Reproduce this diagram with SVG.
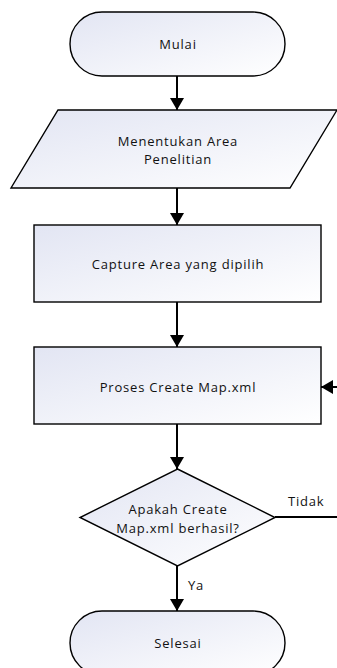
<svg xmlns="http://www.w3.org/2000/svg" width="337" height="668" viewBox="0 0 337 668">
<defs>
<linearGradient id="g" x1="0" y1="0" x2="1" y2="1">
<stop offset="0" stop-color="#e2e5f3"/>
<stop offset="1" stop-color="#ffffff"/>
</linearGradient>
<marker id="ah" markerUnits="userSpaceOnUse" markerWidth="12" markerHeight="14" refX="12" refY="7" orient="auto" viewBox="0 0 12 14">
<path d="M0,0 L12,7 L0,14 z" fill="#000"/>
</marker>
</defs>
<style>
.s{fill:url(#g);stroke:#000;stroke-width:1.4}
.t{font-family:"Open Sans","Noto Sans",sans-serif;font-size:13px;letter-spacing:0.8px;fill:#111;text-anchor:middle}
.l{font-family:"Open Sans","Noto Sans",sans-serif;font-size:13px;letter-spacing:0.8px;fill:#111}
.c{fill:none;stroke:#000;stroke-width:2}
</style>
<g id="connectors">
<line class="c" x1="177" y1="76" x2="177" y2="110" marker-end="url(#ah)"/>
<line class="c" x1="177" y1="188" x2="177" y2="225" marker-end="url(#ah)"/>
<line class="c" x1="177" y1="302" x2="177" y2="347" marker-end="url(#ah)"/>
<line class="c" x1="177" y1="424" x2="177" y2="469" marker-end="url(#ah)"/>
<line class="c" x1="177" y1="566" x2="177" y2="611" marker-end="url(#ah)"/>
<path class="c" d="M275,517 H345 V387 H321" stroke-width="1.4" marker-end="url(#ah)"/>
<text class="l" x="288" y="506">Tidak</text>
<text class="l" x="188" y="590">Ya</text>
</g>
<g id="mulai">
<rect class="s" x="70" y="12" width="215" height="64" rx="32" ry="32"/>
<text class="t" x="178" y="49">Mulai</text>
</g>
<g id="menentukan">
<polygon class="s" points="58,110 337,110 290,188 11,188"/>
<text class="t" x="178" y="146">Menentukan Area</text>
<text class="t" x="178" y="164">Penelitian</text>
</g>
<g id="capture">
<rect class="s" x="34" y="225" width="287" height="77"/>
<text class="t" x="178" y="269">Capture Area yang dipilih</text>
</g>
<g id="proses">
<rect class="s" x="34" y="347" width="287" height="77"/>
<text class="t" x="178" y="392">Proses Create Map.xml</text>
</g>
<g id="decision">
<polygon class="s" points="177.5,469 275,517.5 177.5,566 80,517.5"/>
<text class="t" x="178" y="514">Apakah Create</text>
<text class="t" x="178" y="533">Map.xml berhasil?</text>
</g>
<g id="selesai">
<rect class="s" x="70" y="611" width="215" height="64" rx="32" ry="32"/>
<text class="t" x="178" y="648">Selesai</text>
</g>
</svg>
